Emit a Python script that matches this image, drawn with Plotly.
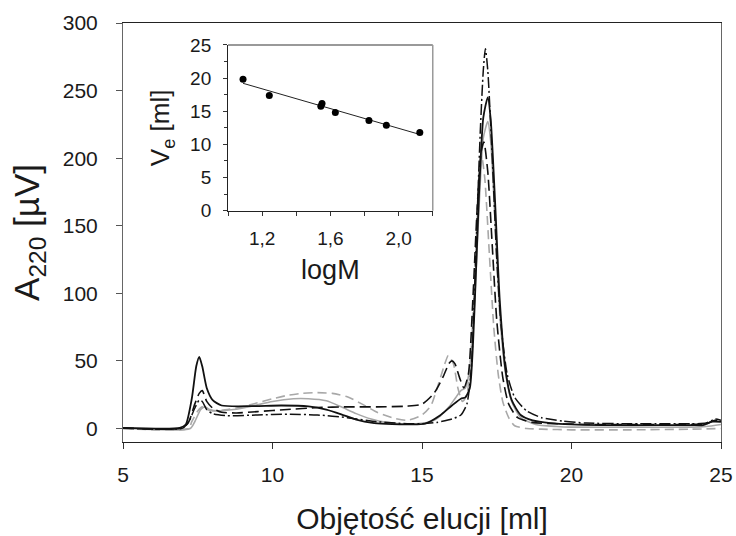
import numpy as np
import plotly.graph_objects as go

# ---------------- data ----------------
# Black solid curve
a_x = [5, 6.9, 7.1, 7.3, 7.45, 7.55, 7.65, 7.8, 8.0, 8.3, 9.3, 10.3, 11.2, 11.8, 12.3, 12.8, 13.4, 14.0, 14.6, 15.1,
       15.6, 16.0, 16.3, 16.45, 16.6, 16.75, 16.9, 17.05, 17.2, 17.3, 17.45, 17.6, 17.8, 18.0, 18.3, 18.7, 19.3, 20,
       21, 22, 23, 24, 24.4, 24.7, 25]
a_y = [0.5, 0.5, 3, 22, 46, 53, 46, 30, 21, 17, 16.5, 17, 16.3, 14, 10.5, 6.5, 4, 3.2, 3, 3.5,
       9.6, 17, 22, 23, 30, 85, 170, 230, 245, 228, 165, 95, 42, 21, 10, 6, 4, 3,
       2.5, 2.5, 2.5, 2.5, 2.5, 5, 5]

# Black long-dashed curve
b_x = [5, 7.0, 7.2, 7.4, 7.55, 7.65, 7.8, 8.0, 8.3, 8.8, 9.5, 10.5, 11.5, 12.5, 13.5, 14.5, 15.0, 15.4, 15.7, 15.9,
       16.0, 16.1, 16.25, 16.4, 16.55, 16.7, 16.85, 16.98, 17.07, 17.2, 17.35, 17.5, 17.7, 17.9, 18.2, 18.7, 19.5,
       20.5, 22, 24, 24.5, 24.8, 25]
b_y = [0.3, 0.3, 5, 18, 26, 28, 20, 15, 12, 11.5, 12.5, 14, 15.5, 16, 16, 16.5, 18, 26, 38, 48,
       50, 48, 38, 30, 40, 95, 165, 205, 212, 190, 135, 80, 38, 18, 8, 4.5, 3.5,
       3, 3, 3, 3.5, 6, 5]

# Black dash-dot curve
c_x = [5, 7.0, 7.2, 7.4, 7.55, 7.65, 7.8, 8.0, 8.5, 9.5, 10.5, 11.5, 12.5, 13.5, 14.5, 15.0, 15.5, 16.0, 16.3, 16.5,
       16.65, 16.8, 16.95, 17.05, 17.12, 17.2, 17.35, 17.5, 17.65, 17.85, 18.1, 18.5, 19.0, 19.7, 20.5, 22, 24,
       24.5, 24.8, 25]
c_y = [0.3, 0.3, 5, 15, 21, 20, 14, 11, 9.5, 10, 10.5, 10, 8, 5, 3.5, 3.5, 4.5, 7, 10, 18,
       45, 130, 220, 265, 281, 265, 200, 125, 75, 40, 23, 13, 8, 5.5, 4, 3.5, 3.5,
       4, 7, 6]

# Gray solid curve
d_x = [5, 7.25, 7.4, 7.6, 7.75, 7.9, 8.2, 8.7, 9.3, 10.0, 10.7, 11.2, 11.8, 12.3, 12.8, 13.3, 13.8, 14.3, 14.8, 15.3,
       15.6, 15.9, 16.1, 16.3, 16.45, 16.6, 16.75, 16.9, 17.05, 17.2, 17.3, 17.45, 17.6, 17.8, 18.0, 18.3, 18.8,
       19.5, 20, 22, 24, 24.5, 25]
d_y = [0, 0, 5, 14, 16, 14, 13, 14, 16.5, 20, 22, 22, 20.5, 16, 11, 7, 4.5, 3.5, 3.5, 5,
       9, 16, 22, 28, 30, 45, 90, 160, 215, 227, 212, 150, 85, 40, 20, 8, 3,
       1.5, 1, 1, 1, 1.5, 3]

# Gray dashed curve
e_x = [5, 7.2, 7.3, 7.5, 7.65, 7.8, 8.0, 8.5, 9.0, 9.5, 10, 10.5, 11, 11.5, 12, 12.5, 13, 13.5, 14, 14.5,
       15.0, 15.3, 15.55, 15.75, 15.88, 16.05, 16.2, 16.35, 16.5, 16.65, 16.8, 16.9, 17.0, 17.1, 17.25, 17.4,
       17.55, 17.7, 17.9, 18.1, 18.5, 19, 20, 22, 24, 25]
e_y = [0, 0, 5, 13, 16, 14, 13, 14, 16, 19, 22, 24.5, 26, 26.5, 26, 23.5, 18, 12, 8, 6,
       10, 17, 33, 47, 54, 48, 30, 20, 25, 60, 130, 180, 201, 185, 130, 75,
       40, 20, 8, 2, 0, -0.5, -1, -1, -0.5, 0]

# Inset: calibration
logM = [1.088, 1.242, 1.544, 1.551, 1.629, 1.826, 1.928, 2.124]
Ve = [19.85, 17.4, 15.76, 16.16, 14.8, 13.6, 12.9, 11.8]

inset_xticks = [1.0, 1.2, 1.4, 1.6, 1.8, 2.0, 2.2]
inset_xticktext = ["", "1,2", "", "1,6", "", "2,0", ""]

FONT = "Arial, Liberation Sans, sans-serif"
BLACK = "#111111"
GRAY = "#a8a8a8"

fig = go.Figure()

curves = [
    (e_x, e_y, GRAY, "9px,5px", 1.6),
    (d_x, d_y, GRAY, "solid", 1.6),
    (c_x, c_y, BLACK, "11px,3px,2px,3px", 1.5),
    (b_x, b_y, BLACK, "11px,5px", 1.6),
    (a_x, a_y, BLACK, "solid", 1.8),
]
for xs, ys, col, dash, w in curves:
    fig.add_trace(go.Scatter(x=xs, y=ys, mode="lines",
                             line=dict(color=col, dash=dash, width=w, shape="spline", smoothing=0.6),
                             showlegend=False, hoverinfo="skip"))

# inset regression line
coef = np.polyfit(logM, Ve, 1)
fx = np.array([min(logM), max(logM)])
fig.add_trace(go.Scatter(x=fx, y=np.polyval(coef, fx), mode="lines", xaxis="x2", yaxis="y2",
                         line=dict(color="#222", width=1), showlegend=False, hoverinfo="skip"))
fig.add_trace(go.Scatter(x=logM, y=Ve, mode="markers", xaxis="x2", yaxis="y2",
                         marker=dict(color="black", size=7), showlegend=False, hoverinfo="skip"))

fig.update_layout(
    width=736, height=536,
    margin=dict(l=123, r=15, t=23, b=94, autoexpand=False),
    paper_bgcolor="white", plot_bgcolor="white",
    font=dict(family=FONT, color="#1a1a1a"),
    xaxis=dict(range=[5, 25], tickvals=[5, 10, 15, 20, 25], ticks="outside", ticklen=6,
               tickcolor="#333", showline=True, linecolor="#222", linewidth=1, mirror=True,
               showgrid=False, zeroline=False, tickfont=dict(size=21), ticklabelstandoff=8,
               automargin=False,
               title=dict(text="Objętość elucji [ml]", font=dict(size=30), standoff=22)),
    yaxis=dict(range=[-10, 300], tickvals=[0, 50, 100, 150, 200, 250, 300], ticks="outside", ticklen=6,
               tickcolor="#555", showline=True, linecolor="#666", linewidth=1, mirror=True,
               showgrid=False, zeroline=False, tickfont=dict(size=21), ticklabelstandoff=14,
               automargin=False,
               title=dict(text="A<sub>220</sub> [µV]", font=dict(size=35), standoff=12)),
    xaxis2=dict(domain=[0.1756, 0.518], anchor="y2", range=[1.0, 2.2], tickvals=inset_xticks,
                ticktext=inset_xticktext, ticks="outside", ticklen=4, tickcolor="#333",
                showline=True, linecolor="#222", linewidth=1, showgrid=False, zeroline=False,
                tickfont=dict(size=19), ticklabelstandoff=6, automargin=False,
                title=dict(text="logM", font=dict(size=27), standoff=12)),
    yaxis2=dict(domain=[0.552, 0.9475], anchor="x2", range=[0, 25], tickvals=[0, 5, 10, 15, 20, 25],
                ticks="outside", ticklen=4, tickcolor="#333",
                minor=dict(dtick=2.5, tick0=0, ticks="outside", ticklen=3, tickcolor="#333"),
                showline=True, linecolor="#222", linewidth=1, showgrid=False, zeroline=False,
                tickfont=dict(size=19), ticklabelstandoff=8, automargin=False,
                title=dict(text="V<sub>e</sub> [ml]", font=dict(size=26), standoff=12)),
    shapes=[
        dict(type="line", xref="x2 domain", yref="y2 domain", x0=0, x1=1, y0=1, y1=1,
             line=dict(color="#999", width=2)),
        dict(type="line", xref="x2 domain", yref="y2 domain", x0=1, x1=1, y0=0, y1=1,
             line=dict(color="#999", width=1.5)),
    ],
)

fig.write_html("out.html")
